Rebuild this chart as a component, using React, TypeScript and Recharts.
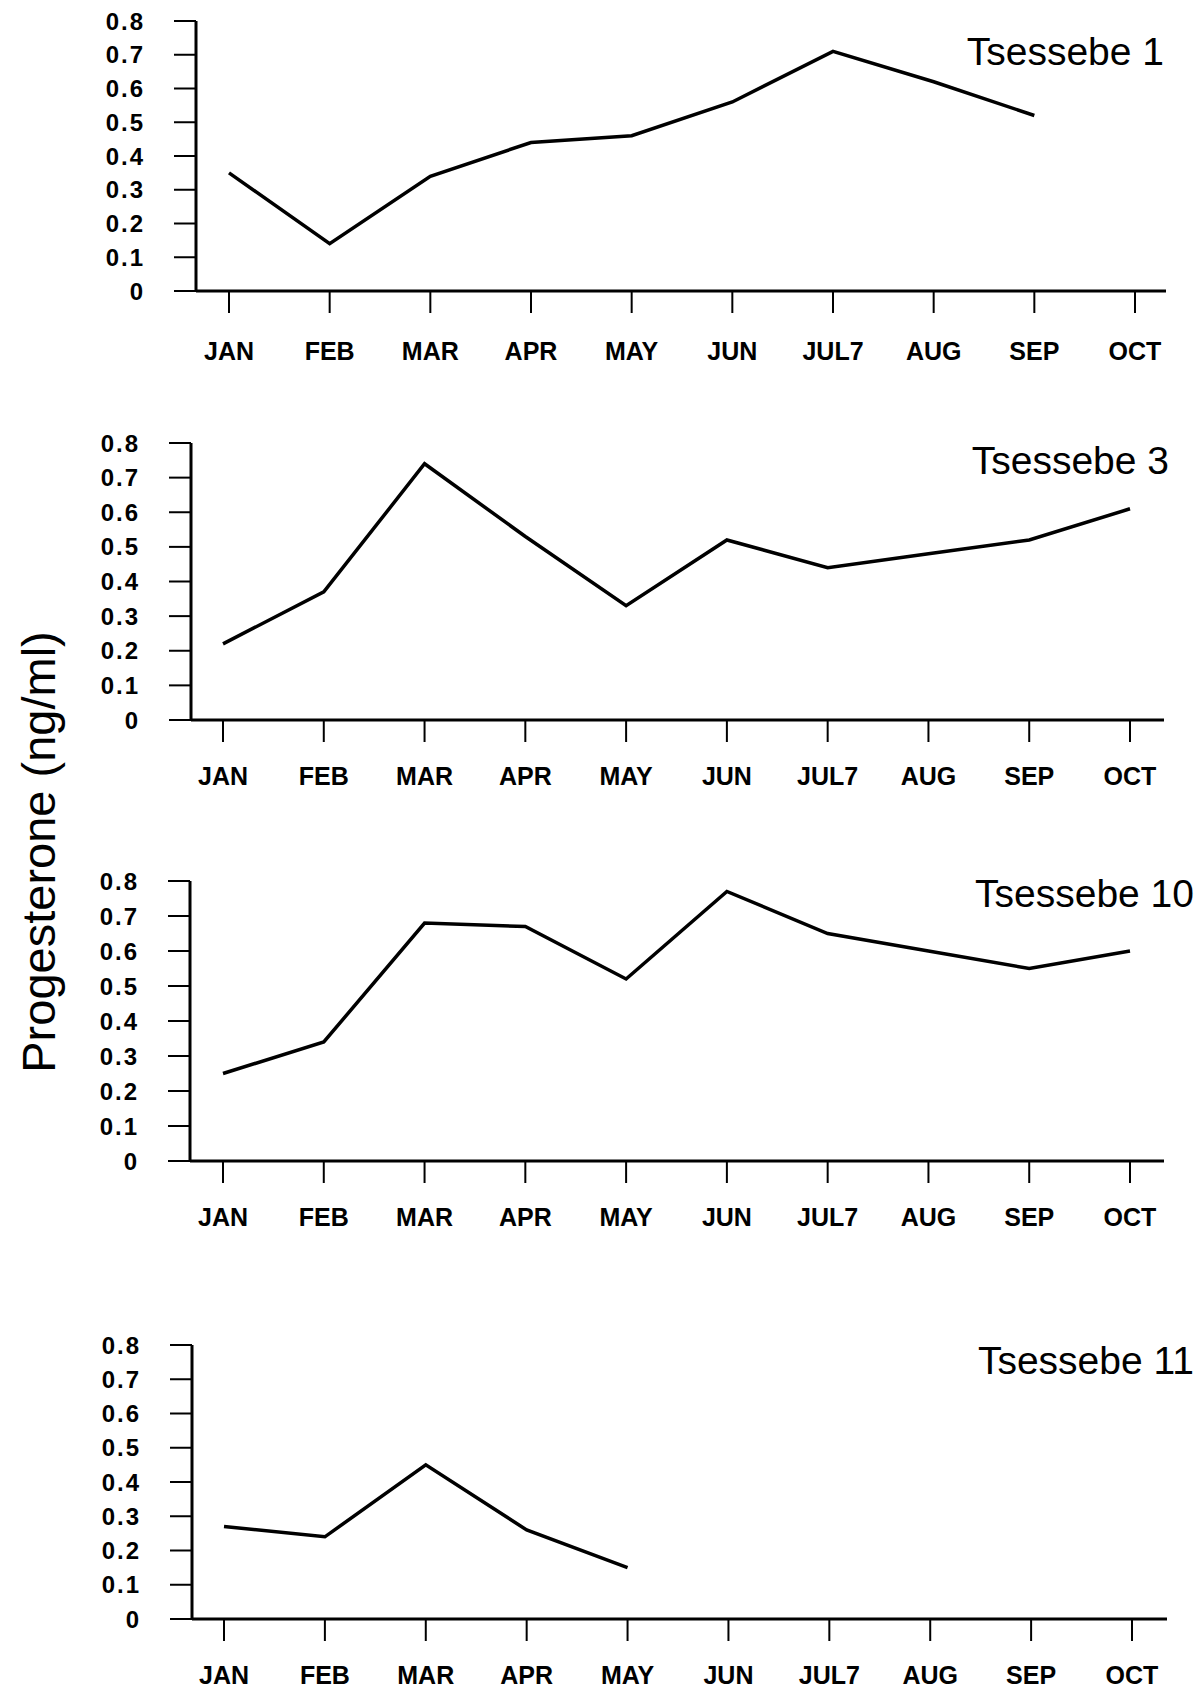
import React from 'react';
import { LineChart, Line, XAxis, YAxis } from 'recharts';

const months = ['JAN', 'FEB', 'MAR', 'APR', 'MAY', 'JUN', 'JUL7', 'AUG', 'SEP', 'OCT'];
const yTicks = [0, 0.1, 0.2, 0.3, 0.4, 0.5, 0.6, 0.7, 0.8];

const tsessebe1 = [0.35, 0.14, 0.34, 0.44, 0.46, 0.56, 0.71, 0.62, 0.52, null];
const tsessebe3 = [0.22, 0.37, 0.74, 0.53, 0.33, 0.52, 0.44, 0.48, 0.52, 0.61];
const tsessebe10 = [0.25, 0.34, 0.68, 0.67, 0.52, 0.77, 0.65, 0.6, 0.55, 0.6];
const tsessebe11 = [0.27, 0.24, 0.45, 0.26, 0.15, null, null, null, null, null];

const titles = ['Tsessebe 1', 'Tsessebe 3', 'Tsessebe 10', 'Tsessebe 11'];
const series = [tsessebe1, tsessebe3, tsessebe10, tsessebe11];

// plot-area placement of each panel on the page
const layout = [
  { top: 21, bottom: 291, axisX: 196, axisEnd: 1166, padL: 33, padR: 31, xMargin: 29, titleRight: 1164, titleY: 52 },
  { top: 443, bottom: 720, axisX: 191, axisEnd: 1164, padL: 32, padR: 34, xMargin: 25, titleRight: 1169, titleY: 461 },
  { top: 881, bottom: 1161, axisX: 190, axisEnd: 1164, padL: 33, padR: 34, xMargin: 25, titleRight: 1194, titleY: 894 },
  { top: 1345, bottom: 1619, axisX: 192, axisEnd: 1167, padL: 32, padR: 35, xMargin: 25, titleRight: 1194, titleY: 1361 },
];

const FONT = '"Liberation Sans", Arial, sans-serif';
const yTickStyle = { fontSize: 24, fontWeight: 'bold' as const, fill: '#000', fontFamily: FONT, letterSpacing: 2 };
const xTickStyle = { fontSize: 25, fontWeight: 'bold' as const, fill: '#000', fontFamily: FONT };

const Panel: React.FC<{ idx: number }> = ({ idx }) => {
  const L = layout[idx];
  const values = series[idx];
  const data = months.map((m, i) => ({ month: m, value: values[i] }));
  const mTop = 20;
  const xH = 85;
  const h = L.bottom - L.top + mTop + xH;
  return (
    <div style={{ position: 'absolute', left: 0, top: L.top - mTop, width: 1203, height: h }}>
      <LineChart
        width={1203}
        height={h}
        data={data}
        margin={{ top: mTop, right: 1203 - L.axisEnd, left: 0, bottom: 0 }}
      >
        <XAxis
          dataKey="month"
          height={xH}
          interval={0}
          padding={{ left: L.padL, right: L.padR }}
          tick={xTickStyle}
          tickSize={22}
          tickMargin={L.xMargin}
          axisLine={{ stroke: '#000', strokeWidth: 3 }}
          tickLine={{ stroke: '#000', strokeWidth: 2 }}
        />
        <YAxis
          width={L.axisX}
          domain={[0, 0.8]}
          ticks={yTicks}
          interval={0}
          tickFormatter={(v: number) => (v === 0 ? '0' : v.toFixed(1))}
          tick={yTickStyle}
          tickSize={22}
          tickMargin={29}
          axisLine={{ stroke: '#000', strokeWidth: 3 }}
          tickLine={{ stroke: '#000', strokeWidth: 2 }}
        />
        <Line
          type="linear"
          dataKey="value"
          stroke="#000"
          strokeWidth={3.5}
          dot={false}
          activeDot={false}
          isAnimationActive={false}
        />
      </LineChart>
      <div
        style={{
          position: 'absolute',
          right: 1203 - L.titleRight,
          top: L.titleY - L.top + mTop - 23,
          fontFamily: FONT,
          fontSize: 39,
          lineHeight: '46px',
          color: '#000',
          whiteSpace: 'nowrap',
        }}
      >
        {titles[idx]}
      </div>
    </div>
  );
};

const App: React.FC = () => {
  return (
    <div style={{ position: 'absolute', left: 0, top: 0, width: 1203, height: 1690, background: '#fff' }}>
      {titles.map((_, i) => (
        <Panel key={i} idx={i} />
      ))}
      <svg width={90} height={1690} style={{ position: 'absolute', left: 0, top: 0 }}>
        <text
          x={0}
          y={0}
          transform="translate(38 852) rotate(-90)"
          textAnchor="middle"
          dominantBaseline="central"
          fontFamily={FONT}
          fontSize={47}
          fill="#000"
        >
          Progesterone (ng/ml)
        </text>
      </svg>
    </div>
  );
};

export default App;
